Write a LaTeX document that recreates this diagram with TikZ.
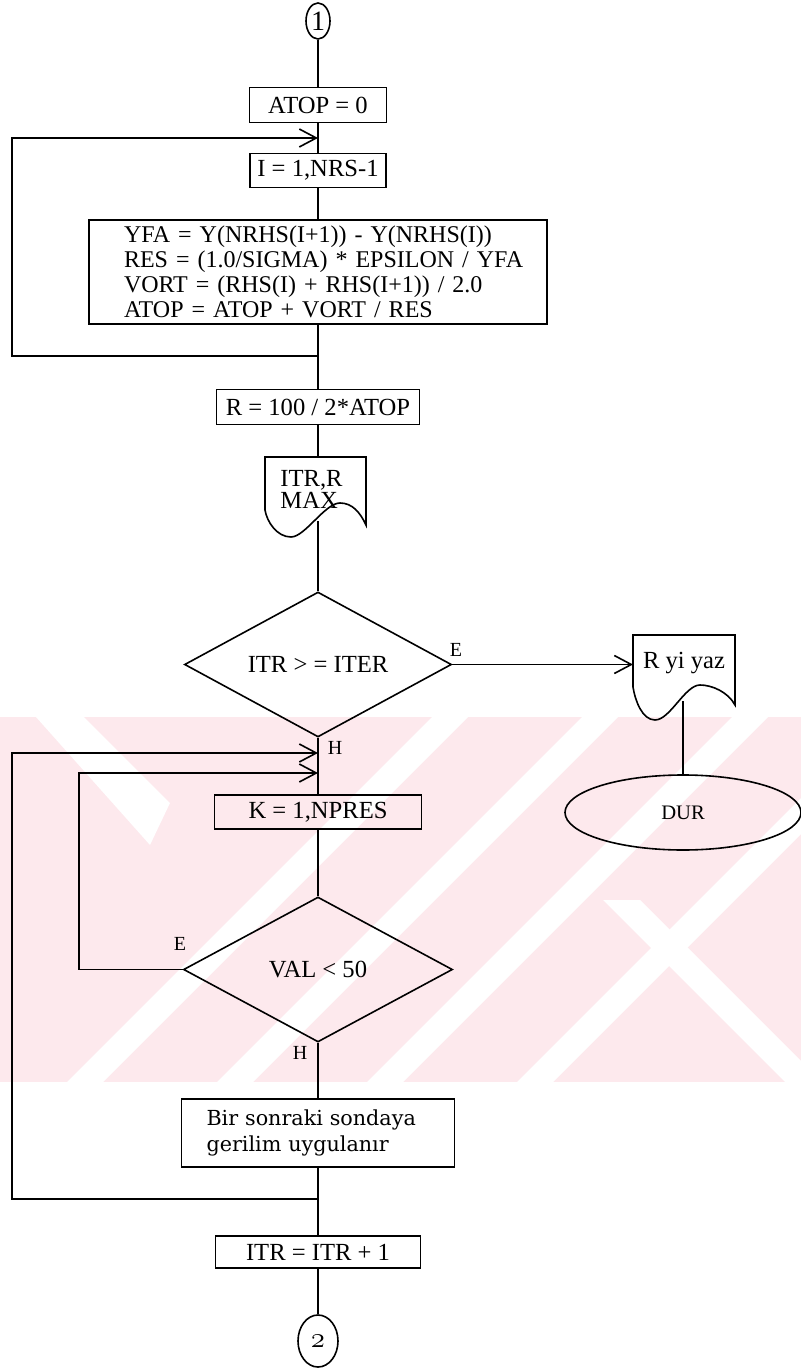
\documentclass[tikz,border=0pt]{standalone}
\usepackage{fontspec}
\setmainfont{Liberation Serif}
\newfontfamily\djserif{DejaVu Serif}
\usetikzlibrary{shapes.geometric,arrows.meta,calc}
\definecolor{wmpink}{RGB}{253,233,237}
\begin{document}
\begin{tikzpicture}[x=0.5pt,y=-0.5pt,
  every node/.style={font=\fontsize{12.3}{12.5}\selectfont},
  ln/.style={line width=0.8pt},
  proc/.style={draw,rectangle,line width=0.8pt,inner sep=0pt},
  dia/.style={draw,diamond,aspect=1.85,line width=0.8pt,inner sep=0pt},
  ell/.style={draw,ellipse,line width=0.8pt,inner sep=0pt},
  lbl/.style={font=\fontsize{10}{10}\selectfont,inner sep=0pt},
  arr/.style={line width=0.8pt,-{Straight Barb[length=8.5pt,width=9pt]}},
]
\useasboundingbox (0,0) rectangle (801,1368);
\fill[white] (0,0) rectangle (801,1368);
% watermark band
\begin{scope}
\clip (0,717) rectangle (801,1082);
\fill[wmpink] (0,717) rectangle (801,1082);
\foreach \b in {67,217,367,517}{
  \fill[white] (\b,1082) -- (\b+36,1082) -- (\b+401,717) -- (\b+365,717) -- cycle;
}
\fill[white] (36,717) -- (84,717) -- (170,803) -- (150,845) -- cycle;
\fill[white] (603,900) -- (640,900) -- (822,1082) -- (785,1082) -- cycle;
\end{scope}

% nodes
\node[ell,minimum width=12pt,minimum height=18pt] (c1) at (318,21) {\fontsize{14}{14}\selectfont 1};
\node[proc,minimum width=68.5pt,minimum height=17.5pt] (atop) at (318,105) {ATOP = 0};
\node[proc,minimum width=68pt,minimum height=17pt] (iloop) at (318,170.5) {I = 1,NRS-1};
\node[proc,minimum width=229pt,minimum height=52pt,text width=229pt,align=left,inner xsep=0pt,
  font=\fontsize{12}{12.5}\selectfont] (yfa) at (318,272)
  {\hspace*{17.5pt}YFA = Y(NRHS(I+1)) - Y(NRHS(I))\\
   \hspace*{17.5pt}RES = (1.0/SIGMA) * EPSILON / YFA\\
   \hspace*{17.5pt}VORT = (RHS(I) + RHS(I+1)) / 2.0\\
   \hspace*{17.5pt}ATOP = ATOP + VORT / RES};
\node[proc,minimum width=101.5pt,minimum height=17.5pt] (rbox) at (318,407) {R = 100 / 2*ATOP};
\node[anchor=west,align=left,inner sep=0pt,font=\fontsize{12.3}{11}\selectfont] (doc1) at (280,489) {ITR,R\\MAX};
\draw[ln] (265,510) -- (265,457) -- (366,457) -- (366,525)
  .. controls (360,512) and (352,503) .. (340,503)
  .. controls (325,503) and (305,537) .. (291,537)
  .. controls (277,537) and (267,522) .. (265,510);
\coordinate (d1t) at (318,457);
\coordinate (d1b) at (318,521);
\node[dia,minimum width=133.5pt,minimum height=72.5pt] (dia1) at (318,664.5) {ITR > = ITER};
\node[lbl] (e1) at (456,650) {E};
\node[lbl] (h1) at (335,748) {H};
\node (doc2) at (684,663) {R yi yaz};
\draw[ln] (633,687) -- (633,635) -- (735,635) -- (735,705)
  .. controls (728,692) and (712,685) .. (700,685)
  .. controls (685,685) and (670,720) .. (655,720)
  .. controls (642,720) and (635,700) .. (633,687);
\coordinate (d2in) at (633,664.5);
\coordinate (d2b) at (683,701);
\node[ell,minimum width=118pt,minimum height=37.5pt,font=\fontsize{10.3}{10.3}\selectfont] (dur) at (683,812.5) {DUR};
\node[proc,minimum width=103.5pt,minimum height=17pt] (kbox) at (318,812) {K = 1,NPRES};
\node[dia,minimum width=134.5pt,minimum height=72.5pt] (dia2) at (318,969.5) {VAL < 50};
\node[lbl] (e2) at (180,944) {E};
\node[lbl] (h2) at (300,1053) {H};
\node[proc,minimum width=136.5pt,minimum height=34pt,text width=111.5pt,align=left,inner xsep=12.5pt,
  font=\djserif\fontsize{10.35}{13}\selectfont] (bir) at (318,1133)
  {Bir sonraki sondaya\\gerilim uygulanır};
\node[proc,minimum width=102.5pt,minimum height=16pt] (itr) at (318,1252) {ITR = ITR + 1};
\node[ell,minimum width=20pt,minimum height=26pt] (c2) at (318,1341) {\fontsize{14}{14}\selectfont$\mathnormal{2}$};

% helper coordinates
\coordinate (in1) at (318,138);
\coordinate (lp1) at (12,138);
\coordinate (j1) at (318,356);
\coordinate (in2) at (318,773);
\coordinate (lp2) at (79,773);
\coordinate (in3) at (318,753);
\coordinate (lp3) at (12,753);
\coordinate (j2) at (318,1199);

% connectors
\draw[ln] (c1.south) -- (atop.north);
\draw[ln] (atop.south) -- (iloop.north);
\draw[ln] (iloop.south) -- (yfa.north);
\draw[ln] (yfa.south) -- (rbox.north);
\draw[arr] (j1) -| (lp1) -- (in1);
\draw[ln] (rbox.south) -- (d1t);
\draw[ln] (d1b) -- (dia1.north);
\draw[arr] (dia1.east) -- (d2in);
\draw[ln] (d2b) -- (dur.north);
\draw[ln] (dia1.south) -- (kbox.north);
\draw[ln] (kbox.south) -- (dia2.north);
\draw[arr] (dia2.west) -| (lp2) -- (in2);
\draw[ln] (dia2.south) -- (bir.north);
\draw[ln] (bir.south) -- (itr.north);
\draw[arr] (j2) -| (lp3) -- (in3);
\draw[ln] (itr.south) -- (c2.north);
\end{tikzpicture}
\end{document}
